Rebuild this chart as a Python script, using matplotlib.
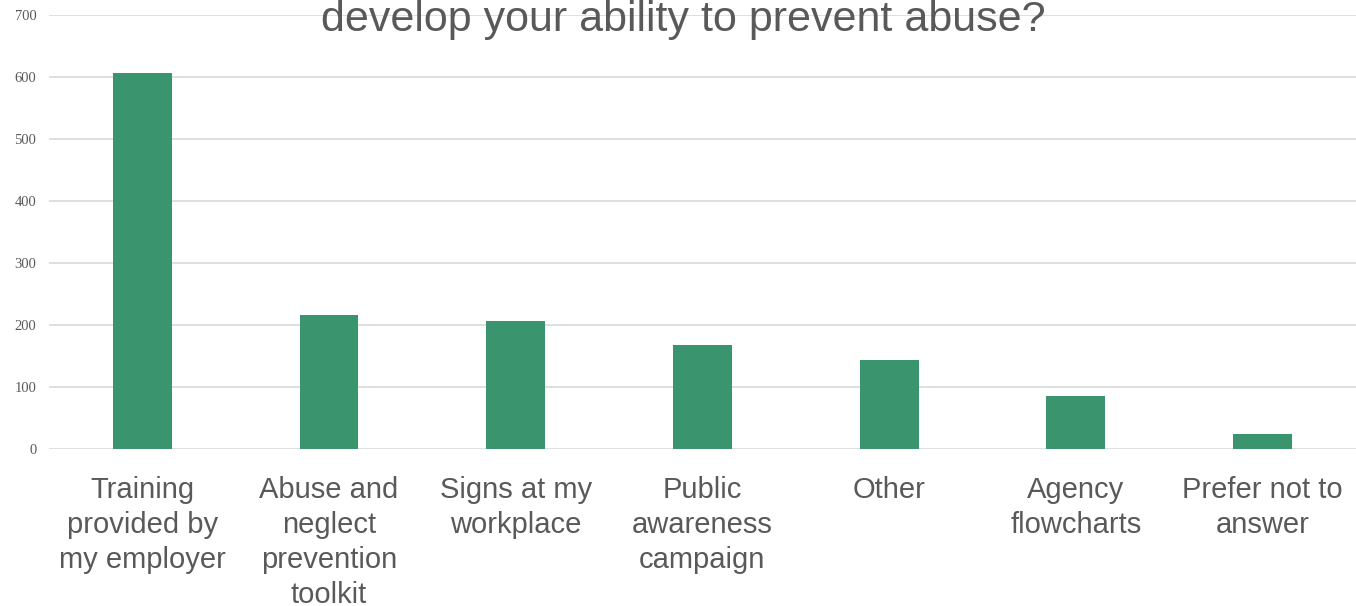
import matplotlib.pyplot as plt

categorias = [
    "Training\nprovided by\nmy employer",
    "Abuse and\nneglect\nprevention\ntoolkit",
    "Signs at my\nworkplace",
    "Public\nawareness\ncampaign",
    "Other",
    "Agency\nflowcharts",
    "Prefer not to\nanswer",
]
respostas = [606, 216, 206, 168, 143, 85, 24]
marcas_y = [0, 100, 200, 300, 400, 500, 600, 700]

titulo = "develop your ability to prevent abuse?"


def gerar_grafico():
    fig = plt.figure(figsize=(13.56, 6.06), dpi=100)
    ax = fig.add_axes([0.036, 0.259, 0.964, 0.716])

    posicoes = range(len(categorias))
    ax.bar(posicoes, respostas, width=0.315, color="#3A946E", zorder=3)

    ax.set_xlim(-0.5, len(categorias) - 0.5)
    ax.set_ylim(0, 700)
    ax.set_yticks(marcas_y)
    ax.set_yticklabels([str(v) for v in marcas_y], family="Liberation Serif",
                       fontsize=10.5, color="#595959")
    ax.set_xticks(list(posicoes))
    ax.set_xticklabels(categorias, family="Liberation Sans", fontsize=21,
                       color="#595959", linespacing=1.31, va="top")

    ax.tick_params(axis="both", length=0)
    ax.tick_params(axis="x", pad=19.5)
    ax.tick_params(axis="y", pad=9)
    for lado in ax.spines.values():
        lado.set_visible(False)

    ax.grid(axis="y", color="#D9D9D9", linewidth=1.2, zorder=0)
    ax.set_axisbelow(True)

    fig.text(0.504, 1 - 31 / 606, titulo, family="Liberation Sans",
             fontsize=31, color="#595959", ha="center", va="baseline")

    fig.savefig("out.png", dpi=100, facecolor="white")


if __name__ == "__main__":
    gerar_grafico()
